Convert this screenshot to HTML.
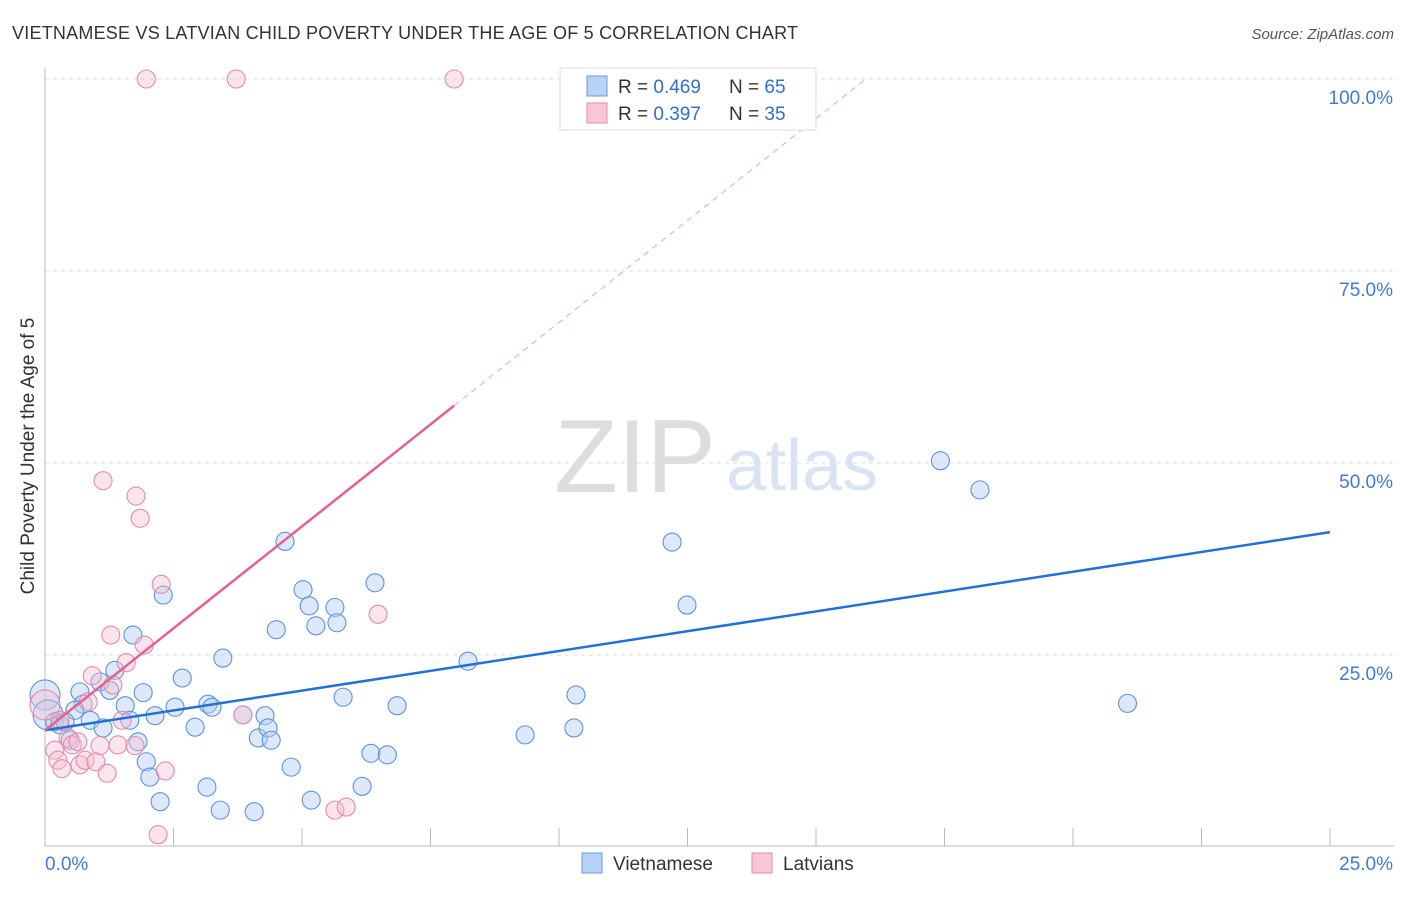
<!DOCTYPE html>
<html><head><meta charset="utf-8"><style>
body{margin:0;background:#fff;font-family:"Liberation Sans",sans-serif}
svg text{font-family:"Liberation Sans",sans-serif}
</style></head><body>
<svg id="c" width="1406" height="892" xmlns="http://www.w3.org/2000/svg">
<text x="12" y="39" font-size="18" fill="#333" textLength="786">VIETNAMESE VS LATVIAN CHILD POVERTY UNDER THE AGE OF 5 CORRELATION CHART</text>
<text x="1394" y="39" font-size="15" fill="#555" font-style="italic" text-anchor="end">Source: ZipAtlas.com</text>
<text x="34" y="456" font-size="19" fill="#333" text-anchor="middle" transform="rotate(-90 34 456)">Child Poverty Under the Age of 5</text>
<g><text x="635" y="492" font-size="104" font-family="Liberation Serif,serif" fill="#ddd" text-anchor="middle">ZIP</text><text x="802" y="490" font-size="72" fill="#d6e4f5" text-anchor="middle">atlas</text></g>
<g id="grid"></g><g id="axes"></g><g id="pts"></g><g id="lines"></g>
<g>
<rect x="560" y="68" width="256" height="62" fill="#fff" stroke="#ddd"/>
<rect x="587" y="76" width="20" height="20" fill="#b8d3f5" stroke="#6a9be0"/>
<rect x="587" y="103" width="20" height="20" fill="#f8c6d6" stroke="#e88aa8"/>
<text x="618" y="93" font-size="19" fill="#333">R = <tspan fill="#2f6fd6">0.469</tspan></text><text x="729" y="93" font-size="19" fill="#333">N = <tspan fill="#2f6fd6">65</tspan></text>
<text x="618" y="120" font-size="19" fill="#333">R = <tspan fill="#2f6fd6">0.397</tspan></text><text x="729" y="120" font-size="19" fill="#333">N = <tspan fill="#2f6fd6">35</tspan></text>
</g>
<g>
<rect x="582" y="853" width="20" height="20" fill="#b8d3f5" stroke="#6a9be0"/>
<text x="613" y="870" font-size="19" fill="#333">Vietnamese</text>
<rect x="752" y="853" width="20" height="20" fill="#f8c6d6" stroke="#e88aa8"/>
<text x="783" y="870" font-size="19" fill="#333">Latvians</text>
</g>
</svg>
<script>
const yTicks=[25,50,75,100];
const yTickLabels=["25.0%","50.0%","75.0%","100.0%"];
const xTicks=[0,2.5,5,7.5,10,12.5,15,17.5,20,22.5,25];
const blueX=[0,0.06,0.19,0.29,0.68,0.74,0.58,0.88,1.07,1.13,1.26,1.36,1.56,1.65,1.71,1.81,1.91,1.97,2.04,2.14,2.24,2.30,2.53,2.67,2.92,3.15,3.17,3.25,3.41,3.46,3.85,4.07,4.15,4.28,4.34,4.40,4.50,4.67,4.79,5.02,5.14,5.18,5.27,5.64,5.68,5.80,6.17,6.34,6.42,6.66,6.85,8.23,9.34,10.29,10.33,12.20,12.49,17.42,18.19,21.06,0.39,0.49];
const blueY=[19.8,17.2,16.3,15.9,20.2,18.6,17.8,16.5,21.5,15.5,20.4,23.0,18.4,16.5,27.6,13.7,20.1,11.1,9.1,17.1,5.9,32.8,18.2,22.0,15.6,7.8,18.6,18.2,4.8,24.6,17.2,4.6,14.2,17.1,15.5,13.9,28.3,39.8,10.4,33.5,31.4,6.1,28.8,31.2,29.2,19.5,7.9,12.2,34.4,12.0,18.4,24.2,14.6,15.5,19.8,39.7,31.5,50.3,46.5,18.7,16.3,13.9];
const pinkX=[0,0.19,0.25,0.33,0.45,0.53,0.64,0.68,0.78,0.84,0.92,0.99,1.07,1.13,1.21,1.28,1.32,1.42,1.50,1.58,1.77,1.85,1.93,1.97,2.20,2.26,2.34,3.72,3.85,5.64,5.86,6.48,7.96,0.29,1.75];
const pinkY=[18.5,12.6,11.3,10.2,14.2,13.3,13.7,10.7,11.3,18.9,22.3,11.1,13.2,47.7,9.6,27.6,21.1,13.3,16.5,24.0,45.7,42.8,26.3,100,1.6,34.2,9.9,100,17.2,4.8,5.2,30.3,100,16.5,13.2];
const blueLine=[15.2,41.0];
const pinkLine=[15.2,5.31];
const X=v=>45+v/25*1285, Y=v=>847-v/100*768;
const NS="http://www.w3.org/2000/svg";
function mk(p,t,a){const e=document.createElementNS(NS,t);for(const k in a)e.setAttribute(k,a[k]);p.appendChild(e);return e;}
const g=document.getElementById('grid'),ax=document.getElementById('axes'),pts=document.getElementById('pts'),ln=document.getElementById('lines');
yTicks.forEach((t,i)=>{
 const l=mk(g,'line',{x1:45,x2:1394,y1:Y(t),y2:Y(t),stroke:'#ddd','stroke-dasharray':'4 4'});
 
 
 const tx=mk(ax,'text',{x:1393,y:Y(t)+25,'font-size':19,fill:'#3d7bd9','text-anchor':'end'});tx.textContent=yTickLabels[i];
 
 
});
const xa=mk(ax,'line',{x1:45,x2:1394,y1:846,y2:846,stroke:'#bbb'});


const ya=mk(ax,'line',{x1:45,x2:45,y1:68,y2:846,stroke:'#bbb'});


xTicks.forEach(t=>{const l=mk(ax,'line',{x1:X(t),x2:X(t),y1:828,y2:846,stroke:'#bbb'});
 
 });
[[0,'0.0%','start'],[25,'25.0%','end']].forEach(([v,s,a])=>{const t=mk(ax,'text',{x:X(v)+(a=='end'?63:0),y:870,'font-size':19,fill:'#3d7bd9','text-anchor':a});t.textContent=s;
 
 });
blueX.forEach((x,i)=>{const c=mk(pts,'circle',{cx:X(x),cy:Y(blueY[i]),r:x<0.1?15:9,fill:'#b3cff4','fill-opacity':0.45,stroke:'#5b93e0','stroke-width':1.1});
 
 });
pinkX.forEach((x,i)=>{const c=mk(pts,'circle',{cx:X(x),cy:Y(pinkY[i]),r:x<0.1?15:9,fill:'#f6bfd0','fill-opacity':0.4,stroke:'#e889a7','stroke-width':1.1});
 
 });
const bl=mk(ln,'line',{x1:X(0),y1:Y(blueLine[0]),x2:X(25),y2:Y(blueLine[1]),stroke:'#2270d8','stroke-width':2.5});


const xe=7.96, xd=(100-pinkLine[0])/pinkLine[1];
const pl=mk(ln,'line',{x1:X(0),y1:Y(pinkLine[0]),x2:X(xe),y2:Y(pinkLine[0]+pinkLine[1]*xe),stroke:'#e8608e','stroke-width':2.5});


const pd=mk(ln,'line',{x1:X(xe),y1:Y(pinkLine[0]+pinkLine[1]*xe),x2:X(xd),y2:Y(100),stroke:'#f0b0c4','stroke-width':1.2,'stroke-dasharray':'6 5'});


</script>
</body></html>
